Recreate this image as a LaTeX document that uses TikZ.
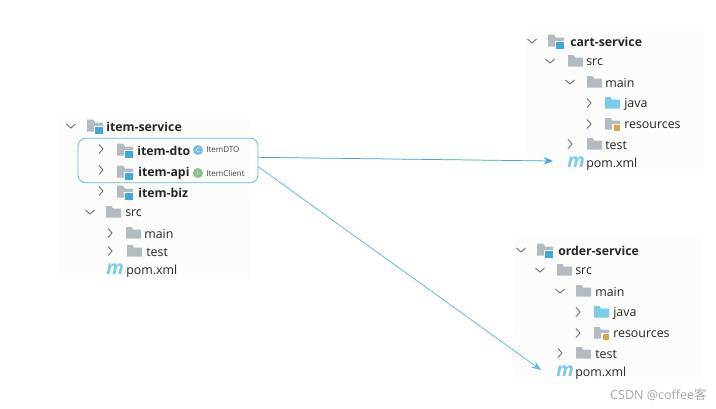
\documentclass[tikz,border=0pt]{standalone}
\usepackage{fontspec}
\setmainfont{Open Sans}
\newfontfamily\cjk{Noto Sans CJK SC}
\usetikzlibrary{arrows.meta}
\definecolor{panelgrey}{HTML}{FCFCFA}
\definecolor{foldergrey}{HTML}{B3BAC0}
\definecolor{modblue}{HTML}{3FA9DC}
\definecolor{javablue}{HTML}{7CCBE8}
\definecolor{boxcyan}{HTML}{62BAD6}
\definecolor{chevgrey}{HTML}{6F7478}
\definecolor{resyellow}{HTML}{D9A64E}
\definecolor{clsblue}{HTML}{74C0DE}
\definecolor{ifgreen}{HTML}{8CC08A}
\tikzset{
  panel/.style={draw=none, fill=panelgrey},
  lb/.style={anchor=west, inner sep=0pt, font=\fontsize{9.3}{11}\selectfont, text=black!85},
  lbb/.style={lb, font=\fontsize{9.2}{11}\selectfont\bfseries},
  sm/.style={anchor=west, inner sep=0pt, font=\fontsize{6}{7}\selectfont, text=black!75},
  badge/.style={circle, fill=#1, inner sep=0pt, minimum size=7.5pt,
                font=\fontsize{4.5}{5}\selectfont, text=white},
  mvn/.style={anchor=west, inner sep=0pt, text=javablue,
              font=\fontsize{14.5}{14}\selectfont\bfseries\itshape},
  ar/.style={-{Stealth[length=7pt,width=5.5pt]}, line width=0.55pt},
  chevr/.pic={\draw[chevgrey, line width=0.7pt] (-2,-4.5) -- (2,0) -- (-2,4.5);},
  chevd/.pic={\draw[chevgrey, line width=0.7pt] (-4.5,-2) -- (0,2) -- (4.5,-2);},
  fold/.pic={\fill[#1] (0,5.5) -- (0,-6) -- (5.5,-6) -- (7,-3.5) -- (15,-3.5) -- (15,5.5) -- cycle;},
  modfold/.pic={\fill[foldergrey] (0,5.5) -- (0,-6.5) -- (6,-6.5) -- (8,-3.5) -- (16,-3.5) -- (16,5.5) -- cycle;
                \fill[white] (6.5,-0.5) rectangle (16.5,7.5);
                \fill[modblue] (8,1) rectangle (15.5,7.5);},
  resfold/.pic={\fill[foldergrey] (0,5.5) -- (0,-6) -- (5.5,-6) -- (7,-3.5) -- (15,-3.5) -- (15,5.5) -- cycle;
                \fill[white] (7,-0.5) rectangle (16,7.5);
                \fill[resyellow] (8.5,0.5) rectangle (15,7);},
}
\begin{document}
\begin{tikzpicture}[x=0.75pt, y=-0.75pt]
  \useasboundingbox (0,0) rectangle (716,408);
  \fill[white] (0,0) rectangle (716,408);
  \fill[panel] (58,118) rectangle (250,277);
  \fill[panel] (526,30) rectangle (704,169);
  \fill[panel] (513,236) rectangle (703,378);

  % item-service
  \pic at (71,126) {chevd};
  \pic at (87,126) {modfold};
  \node[lbb] (itemsvc) at (106,127) {item-service};
  \pic at (101,149) {chevr};
  \pic at (117,150) {modfold};
  \node[lbb] (itemdto) at (137,151) {item-dto};
  \node[badge=clsblue] (dtobadge) at (198,150) {C};
  \node[sm] (dtoname) at (206,150) {ItemDTO};
  \pic at (101,170) {chevr};
  \pic at (117,172) {modfold};
  \node[lbb] (itemapi) at (138,173) {item-api};
  \node[badge=ifgreen] (apibadge) at (198,173) {I};
  \node[sm] (apiname) at (206,173) {ItemClient};
  \pic at (101,191) {chevr};
  \pic at (117,192) {modfold};
  \node[lbb] (itembiz) at (138,193) {item-biz};
  \pic at (90,212) {chevd};
  \pic at (106,212) {fold=foldergrey};
  \node[lb] (itemsrc) at (125,213) {src};
  \pic at (110,233) {chevr};
  \pic at (126,233) {fold=foldergrey};
  \node[lb] (itemmain) at (144,234) {main};
  \pic at (110,251) {chevr};
  \pic at (127,251) {fold=foldergrey};
  \node[lb] (itemtest) at (146,252) {test};
  \node[mvn] (itemm) at (106,269) {m};
  \node[lb] (itempom) at (126,271) {pom.xml};
  \node[draw=boxcyan, rounded corners=6pt, line width=0.6pt, minimum width=135pt,
        minimum height=33.5pt, inner sep=0pt] (apis) at (168,160.5) {};

  % cart-service
  \pic at (532,41) {chevd};
  \pic at (548,41) {modfold};
  \node[lbb] (cartsvc) at (570,42) {cart-service};
  \pic at (550,61) {chevd};
  \pic at (568,61) {fold=foldergrey};
  \node[lb] (cartsrc) at (586,62) {src};
  \pic at (570,82) {chevd};
  \pic at (587,82) {fold=foldergrey};
  \node[lb] (cartmain) at (605,83) {main};
  \pic at (589,103) {chevr};
  \pic at (605,103) {fold=javablue};
  \node[lb] (cartjava) at (624,104) {java};
  \pic at (589,124) {chevr};
  \pic at (605,124) {resfold};
  \node[lb] (cartres) at (624,125) {resources};
  \pic at (570,144) {chevr};
  \pic at (587,144) {fold=foldergrey};
  \node[lb] (carttest) at (605,145) {test};
  \node[mvn] (cartm) at (567,162) {m};
  \node[lb] (cartpom) at (586,164) {pom.xml};

  % order-service
  \pic at (521,250) {chevd};
  \pic at (537,250) {modfold};
  \node[lbb] (ordersvc) at (558,251) {order-service};
  \pic at (540,270) {chevd};
  \pic at (557,270) {fold=foldergrey};
  \node[lb] (ordersrc) at (575,271) {src};
  \pic at (560,291) {chevd};
  \pic at (576,291) {fold=foldergrey};
  \node[lb] (ordermain) at (595,292) {main};
  \pic at (578,312) {chevr};
  \pic at (594,312) {fold=javablue};
  \node[lb] (orderjava) at (613,313) {java};
  \pic at (578,333) {chevr};
  \pic at (594,333) {resfold};
  \node[lb] (orderres) at (613,334) {resources};
  \pic at (560,353) {chevr};
  \pic at (576,353) {fold=foldergrey};
  \node[lb] (ordertest) at (595,354) {test};
  \node[mvn] (orderm) at (556,371) {m};
  \node[lb] (orderpom) at (575,373) {pom.xml};

  \coordinate (cartin) at (553,161);
  \coordinate (orderin) at (541,370);
  \draw[ar, draw=modblue, fill=modblue] (apis.2) -- (cartin);
  \draw[ar, draw=boxcyan, fill=boxcyan] (apis.-4) -- (orderin);

  \node[anchor=east, inner sep=0pt, text=black!35, font=\fontsize{9.4}{10}\selectfont]
       (mark) at (707,395) {CSDN @coffee{\cjk 客}};
\end{tikzpicture}
\end{document}
